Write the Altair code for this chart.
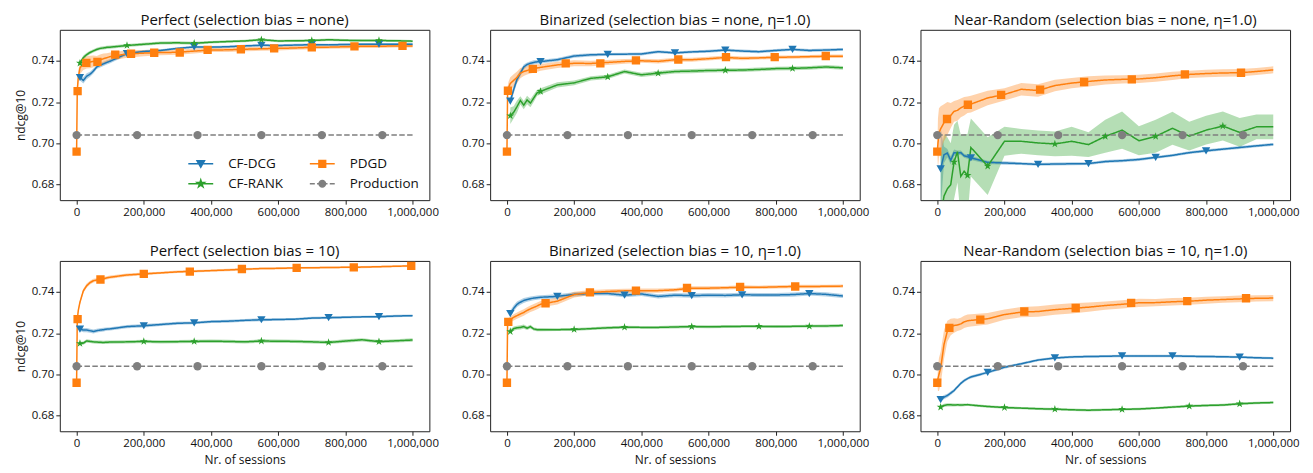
import altair as alt
import pandas as pd

# ---------------- data ----------------
SERIES = ["CF-DCG", "CF-RANK", "PDGD", "Production"]
COLORS = ["#1f77b4", "#2ca02c", "#ff7f0e", "#7f7f7f"]

X_TICKS = [0, 200000, 400000, 600000, 800000, 1000000]
Y_TICKS = [0.68, 0.70, 0.72, 0.74]

X_CF = [10000, 20000, 30000, 40000, 50000, 60000, 70000, 80000, 90000, 100000,
        150000, 200000, 250000, 300000, 350000, 400000, 450000, 500000, 550000,
        600000, 650000, 700000, 750000, 800000, 850000, 900000, 950000, 1000000]
X_PD = [0, 2000, 5000, 10000, 20000, 30000, 40000, 50000, 60000, 70000, 80000,
        90000, 100000, 150000, 200000, 250000, 300000, 350000, 400000, 450000,
        500000, 550000, 600000, 650000, 700000, 750000, 800000, 850000, 900000,
        950000, 1000000]

PROD_VALUE = 0.704
PROD_LINE_X = [0, 1000000]
PROD_MK_X = [0, 180000, 360000, 550000, 730000, 910000]

TITLES = [
    "Perfect (selection bias = none)",
    "Binarized (selection bias = none, η=1.0)",
    "Near-Random (selection bias = none, η=1.0)",
    "Perfect (selection bias = 10)",
    "Binarized (selection bias = 10, η=1.0)",
    "Near-Random (selection bias = 10, η=1.0)",
]

# Panel 1: Perfect, bias none
P1_DCG = [0.7319, 0.7305, 0.7325, 0.7335, 0.7350, 0.7370, 0.7378, 0.7385, 0.7392, 0.7398,
          0.7435, 0.7445, 0.7450, 0.7460, 0.7467, 0.7466, 0.7468, 0.7472, 0.7475,
          0.7474, 0.7476, 0.7478, 0.7477, 0.7479, 0.7480, 0.7480, 0.7480, 0.7480]
P1_DCG_HW = [0.0015, 0.0015, 0.0015, 0.0012, 0.0012, 0.0010, 0.0010, 0.0010, 0.0010, 0.0010,
             0.0008, 0.0007, 0.0006, 0.0006, 0.0006, 0.0006, 0.0006, 0.0006, 0.0006,
             0.0006, 0.0006, 0.0006, 0.0006, 0.0006, 0.0006, 0.0006, 0.0006, 0.0006]
P1_DCG_MK = [10000, 150000, 350000, 550000, 700000, 900000]
P1_RANK = [0.7389, 0.7415, 0.7430, 0.7440, 0.7448, 0.7455, 0.7460, 0.7462, 0.7465, 0.7466,
           0.7474, 0.7480, 0.7486, 0.7487, 0.7485, 0.7490, 0.7493, 0.7496, 0.7502,
           0.7496, 0.7497, 0.7498, 0.7502, 0.7499, 0.7498, 0.7498, 0.7497, 0.7495]
P1_RANK_HW = [0.0010, 0.0010, 0.0009, 0.0009, 0.0008, 0.0008, 0.0008, 0.0008, 0.0008, 0.0008,
              0.0007, 0.0007, 0.0007, 0.0007, 0.0007, 0.0006, 0.0006, 0.0006, 0.0006,
              0.0006, 0.0006, 0.0006, 0.0006, 0.0006, 0.0006, 0.0006, 0.0006, 0.0006]
P1_RANK_MK = [10000, 150000, 350000, 550000, 700000, 900000]
P1_PD = [0.6960, 0.7255, 0.7320, 0.7365, 0.7385, 0.7392, 0.7394, 0.7397, 0.7398, 0.7405, 0.7410,
         0.7415, 0.7420, 0.7433, 0.7437, 0.7440, 0.7441, 0.7447, 0.7452, 0.7453,
         0.7456, 0.7458, 0.7460, 0.7462, 0.7465, 0.7466, 0.7468, 0.7470, 0.7470,
         0.7472, 0.7472]
P1_PD_HW = [0.0, 0.0020, 0.0030, 0.0030, 0.0030, 0.0030, 0.0030, 0.0028, 0.0025, 0.0025, 0.0025,
            0.0022, 0.0020, 0.0018, 0.0015, 0.0013, 0.0012, 0.0012, 0.0010, 0.0010,
            0.0010, 0.0010, 0.0010, 0.0009, 0.0009, 0.0008, 0.0008, 0.0008, 0.0008,
            0.0008, 0.0008]
P1_PD_MK_X = [0, 3000, 29000, 62000, 115000, 162000, 231000, 307000, 390000, 489000,
              588000, 700000, 827000, 970000]
P1_PD_MK_Y = [0.696, 0.7253, 0.739, 0.7395, 0.743, 0.7434, 0.7439, 0.744, 0.7453, 0.7456,
              0.746, 0.7465, 0.747, 0.7472]

# Panel 2: Binarized, bias none
P2_DCG = [0.7205, 0.7260, 0.7310, 0.7340, 0.7370, 0.7382, 0.7388, 0.7392, 0.7395, 0.7396,
          0.7405, 0.7423, 0.7429, 0.7431, 0.7432, 0.7433, 0.7444, 0.7438, 0.7443,
          0.7446, 0.7452, 0.7447, 0.7444, 0.7450, 0.7455, 0.7450, 0.7452, 0.7455]
P2_DCG_HW = [0.0020, 0.0020, 0.0018, 0.0015, 0.0012, 0.0010, 0.0010, 0.0010, 0.0009, 0.0009,
             0.0008, 0.0008, 0.0008, 0.0007, 0.0007, 0.0007, 0.0007, 0.0007, 0.0007,
             0.0007, 0.0007, 0.0007, 0.0007, 0.0007, 0.0007, 0.0007, 0.0007, 0.0007]
P2_DCG_MK = [10000, 100000, 300000, 500000, 650000, 850000]
P2_RANK = [0.7134, 0.7150, 0.7178, 0.7208, 0.7185, 0.7210, 0.7195, 0.7220, 0.7245, 0.7252,
           0.7283, 0.7293, 0.7315, 0.7322, 0.7348, 0.7332, 0.7340, 0.7348, 0.7350,
           0.7353, 0.7354, 0.7355, 0.7358, 0.7362, 0.7363, 0.7366, 0.7370, 0.7366]
P2_RANK_HW = [0.0040, 0.0030, 0.0030, 0.0020, 0.0020, 0.0020, 0.0020, 0.0018, 0.0015, 0.0015,
              0.0013, 0.0012, 0.0010, 0.0010, 0.0010, 0.0010, 0.0010, 0.0010, 0.0010,
              0.0010, 0.0010, 0.0009, 0.0009, 0.0009, 0.0009, 0.0009, 0.0009, 0.0009]
P2_RANK_MK = [10000, 100000, 300000, 450000, 650000, 850000]
P2_PD = [0.6960, 0.7255, 0.7270, 0.7290, 0.7305, 0.7320, 0.7340, 0.7348, 0.7353, 0.7358, 0.7360,
         0.7365, 0.7368, 0.7380, 0.7388, 0.7387, 0.7392, 0.7397, 0.7400, 0.7397,
         0.7405, 0.7405, 0.7410, 0.7416, 0.7412, 0.7414, 0.7417, 0.7418, 0.7420,
         0.7422, 0.7422]
P2_PD_HW = [0.0, 0.0020, 0.0030, 0.0030, 0.0030, 0.0028, 0.0025, 0.0022, 0.0020, 0.0020, 0.0018,
            0.0018, 0.0016, 0.0015, 0.0014, 0.0013, 0.0012, 0.0011, 0.0010, 0.0010,
            0.0010, 0.0010, 0.0009, 0.0009, 0.0009, 0.0008, 0.0008, 0.0008, 0.0008,
            0.0008, 0.0008]
P2_PD_MK_X = [0, 3000, 77000, 175000, 278000, 384000, 510000, 652000, 797000, 949000]
P2_PD_MK_Y = [0.696, 0.7255, 0.7361, 0.7387, 0.7387, 0.7402, 0.7406, 0.7418, 0.7418, 0.7423]

# Panel 3: Near-Random, bias none
P3_DCG = [0.6876, 0.6945, 0.6953, 0.6918, 0.6955, 0.6953, 0.6955, 0.6940, 0.6935, 0.6930,
          0.6908, 0.6905, 0.6902, 0.6898, 0.6900, 0.6901, 0.6902, 0.6912, 0.6916,
          0.6922, 0.6932, 0.6942, 0.6955, 0.6964, 0.6972, 0.6980, 0.6988, 0.6995]
P3_DCG_HW = [0.0200, 0.0040, 0.0020, 0.0020, 0.0015, 0.0012, 0.0010, 0.0010, 0.0010, 0.0010,
             0.0008, 0.0008, 0.0007, 0.0007, 0.0007, 0.0007, 0.0007, 0.0007, 0.0007,
             0.0007, 0.0007, 0.0007, 0.0007, 0.0007, 0.0007, 0.0007, 0.0007, 0.0007]
P3_DCG_MK = [10000, 100000, 300000, 450000, 650000, 800000]
P3_RANK = [0.6640, 0.6745, 0.6780, 0.6800, 0.6910, 0.6960, 0.6840, 0.6865, 0.6845, 0.6980,
           0.6890, 0.7010, 0.7010, 0.7002, 0.6997, 0.7010, 0.6994, 0.7034, 0.7064,
           0.7013, 0.7034, 0.7073, 0.7035, 0.7064, 0.7084, 0.7053, 0.7080, 0.7080]
P3_RANK_HW = [0.0300, 0.0300, 0.0250, 0.0200, 0.0180, 0.0150, 0.0200, 0.0180, 0.0200, 0.0140,
              0.0140, 0.0070, 0.0060, 0.0060, 0.0060, 0.0070, 0.0060, 0.0080, 0.0090,
              0.0070, 0.0080, 0.0080, 0.0070, 0.0070, 0.0070, 0.0070, 0.0060, 0.0060]
P3_RANK_MK = [50000, 90000, 150000, 350000, 500000, 650000, 850000]
P3_PD = [0.6960, 0.7000, 0.7050, 0.7070, 0.7100, 0.7120, 0.7135, 0.7155, 0.7160, 0.7172, 0.7180,
         0.7187, 0.7190, 0.7220, 0.7237, 0.7262, 0.7256, 0.7280, 0.7292, 0.7300,
         0.7307, 0.7310, 0.7312, 0.7318, 0.7327, 0.7334, 0.7338, 0.7341, 0.7342,
         0.7348, 0.7356]
P3_PD_HW = [0.0, 0.0120, 0.0120, 0.0110, 0.0090, 0.0080, 0.0060, 0.0050, 0.0050, 0.0045, 0.0045,
            0.0040, 0.0040, 0.0035, 0.0030, 0.0030, 0.0030, 0.0028, 0.0025, 0.0025,
            0.0022, 0.0020, 0.0020, 0.0020, 0.0020, 0.0018, 0.0018, 0.0018, 0.0018,
            0.0017, 0.0017]
P3_PD_MK_X = [0, 29000, 91000, 190000, 306000, 437000, 579000, 737000, 904000]
P3_PD_MK_Y = [0.696, 0.7118, 0.7187, 0.7235, 0.726, 0.7297, 0.731, 0.7334, 0.7342]

# Panel 4: Perfect, bias 10
P4_DCG = [0.7220, 0.7215, 0.7215, 0.7212, 0.7208, 0.7212, 0.7215, 0.7217, 0.7220, 0.7221,
          0.7232, 0.7236, 0.7242, 0.7248, 0.7250, 0.7256, 0.7258, 0.7262, 0.7265,
          0.7266, 0.7268, 0.7273, 0.7275, 0.7277, 0.7279, 0.7280, 0.7283, 0.7285]
P4_DCG_HW = [0.0010, 0.0010, 0.0010, 0.0010, 0.0010, 0.0009, 0.0009, 0.0009, 0.0008, 0.0008,
             0.0008, 0.0008, 0.0007, 0.0007, 0.0007, 0.0007, 0.0007, 0.0007, 0.0007,
             0.0006, 0.0006, 0.0006, 0.0006, 0.0006, 0.0006, 0.0006, 0.0006, 0.0006]
P4_DCG_MK = [10000, 200000, 350000, 550000, 750000, 900000]
P4_RANK = [0.7150, 0.7152, 0.7162, 0.7160, 0.7158, 0.7157, 0.7156, 0.7155, 0.7156, 0.7157,
           0.7158, 0.7160, 0.7158, 0.7159, 0.7160, 0.7161, 0.7160, 0.7158, 0.7162,
           0.7161, 0.7160, 0.7158, 0.7155, 0.7162, 0.7168, 0.7159, 0.7163, 0.7167]
P4_RANK_HW = [0.0008, 0.0008, 0.0008, 0.0008, 0.0008, 0.0008, 0.0008, 0.0008, 0.0008, 0.0008,
              0.0008, 0.0008, 0.0008, 0.0008, 0.0008, 0.0008, 0.0008, 0.0008, 0.0008,
              0.0008, 0.0008, 0.0008, 0.0008, 0.0008, 0.0008, 0.0008, 0.0008, 0.0008]
P4_RANK_MK = [10000, 200000, 350000, 550000, 750000, 900000]
P4_PD = [0.6960, 0.7265, 0.7310, 0.7350, 0.7405, 0.7430, 0.7445, 0.7454, 0.7458, 0.7460, 0.7464,
         0.7468, 0.7471, 0.7482, 0.7487, 0.7492, 0.7497, 0.7500, 0.7503, 0.7506,
         0.7510, 0.7513, 0.7514, 0.7516, 0.7517, 0.7518, 0.7519, 0.7520, 0.7522,
         0.7524, 0.7526]
P4_PD_HW = [0.0, 0.0010, 0.0010, 0.0010, 0.0010, 0.0010, 0.0009, 0.0009, 0.0008, 0.0008, 0.0008,
            0.0008, 0.0008, 0.0007, 0.0007, 0.0006, 0.0006, 0.0006, 0.0006, 0.0006,
            0.0006, 0.0005, 0.0005, 0.0005, 0.0005, 0.0005, 0.0005, 0.0005, 0.0005,
            0.0005, 0.0005]
P4_PD_MK_X = [0, 3000, 71000, 200000, 337000, 492000, 655000, 825000, 996000]
P4_PD_MK_Y = [0.696, 0.7268, 0.746, 0.7487, 0.7498, 0.7511, 0.7516, 0.7519, 0.7526]

# Panel 5: Binarized, bias 10
P5_DCG = [0.7295, 0.7320, 0.7340, 0.7350, 0.7358, 0.7363, 0.7367, 0.7370, 0.7372, 0.7374,
          0.7378, 0.7388, 0.7392, 0.7392, 0.7384, 0.7390, 0.7378, 0.7384, 0.7382,
          0.7384, 0.7383, 0.7386, 0.7385, 0.7385, 0.7387, 0.7392, 0.7388, 0.7380]
P5_DCG_HW = [0.0015, 0.0015, 0.0013, 0.0012, 0.0012, 0.0011, 0.0011, 0.0010, 0.0010, 0.0010,
             0.0010, 0.0010, 0.0010, 0.0010, 0.0010, 0.0010, 0.0010, 0.0010, 0.0010,
             0.0010, 0.0010, 0.0010, 0.0010, 0.0010, 0.0010, 0.0010, 0.0010, 0.0010]
P5_DCG_MK = [10000, 150000, 350000, 550000, 700000, 900000]
P5_RANK = [0.7208, 0.7222, 0.7226, 0.7228, 0.7232, 0.7224, 0.7232, 0.7220, 0.7217, 0.7217,
           0.7217, 0.7218, 0.7222, 0.7226, 0.7229, 0.7228, 0.7228, 0.7230, 0.7232,
           0.7231, 0.7232, 0.7233, 0.7233, 0.7232, 0.7233, 0.7234, 0.7235, 0.7237]
P5_RANK_HW = [0.0010, 0.0010, 0.0010, 0.0010, 0.0010, 0.0009, 0.0009, 0.0008, 0.0008, 0.0008,
              0.0007, 0.0007, 0.0007, 0.0007, 0.0007, 0.0007, 0.0007, 0.0007, 0.0007,
              0.0007, 0.0007, 0.0007, 0.0007, 0.0007, 0.0007, 0.0007, 0.0007, 0.0007]
P5_RANK_MK = [10000, 200000, 350000, 550000, 750000, 900000]
P5_PD = [0.6960, 0.7255, 0.7258, 0.7265, 0.7277, 0.7285, 0.7293, 0.7300, 0.7310, 0.7318, 0.7325,
         0.7332, 0.7340, 0.7355, 0.7387, 0.7397, 0.7402, 0.7405, 0.7406, 0.7406,
         0.7410, 0.7418, 0.7418, 0.7420, 0.7423, 0.7422, 0.7424, 0.7426, 0.7426,
         0.7427, 0.7428]
P5_PD_HW = [0.0, 0.0015, 0.0015, 0.0015, 0.0015, 0.0015, 0.0016, 0.0016, 0.0016, 0.0016, 0.0016,
            0.0016, 0.0016, 0.0016, 0.0014, 0.0012, 0.0011, 0.0010, 0.0010, 0.0010,
            0.0009, 0.0009, 0.0009, 0.0009, 0.0009, 0.0008, 0.0008, 0.0008, 0.0008,
            0.0008, 0.0008]
P5_PD_MK_X = [0, 4000, 115000, 247000, 384000, 536000, 694000, 858000]
P5_PD_MK_Y = [0.696, 0.7255, 0.7345, 0.7398, 0.7406, 0.7419, 0.7424, 0.7426]

# Panel 6: Near-Random, bias 10
P6_DCG = [0.6878, 0.6890, 0.6898, 0.6910, 0.6922, 0.6940, 0.6957, 0.6970, 0.6980, 0.6988,
          0.7010, 0.7035, 0.7052, 0.7070, 0.7080, 0.7085, 0.7087, 0.7088, 0.7090,
          0.7090, 0.7090, 0.7090, 0.7088, 0.7087, 0.7086, 0.7084, 0.7081, 0.7079]
P6_DCG_HW = [0.0010, 0.0010, 0.0009, 0.0009, 0.0008, 0.0008, 0.0008, 0.0008, 0.0007, 0.0007,
             0.0007, 0.0007, 0.0006, 0.0006, 0.0006, 0.0006, 0.0006, 0.0006, 0.0006,
             0.0006, 0.0006, 0.0006, 0.0006, 0.0006, 0.0006, 0.0006, 0.0006, 0.0006]
P6_DCG_MK = [10000, 150000, 350000, 550000, 700000, 900000]
P6_RANK = [0.6842, 0.6850, 0.6853, 0.6853, 0.6852, 0.6853, 0.6852, 0.6853, 0.6854, 0.6852,
           0.6845, 0.6840, 0.6837, 0.6834, 0.6832, 0.6829, 0.6827, 0.6829, 0.6831,
           0.6833, 0.6837, 0.6842, 0.6847, 0.6850, 0.6852, 0.6858, 0.6862, 0.6864]
P6_RANK_HW = [0.0008, 0.0008, 0.0008, 0.0008, 0.0007, 0.0007, 0.0007, 0.0007, 0.0006, 0.0006,
              0.0006, 0.0006, 0.0006, 0.0006, 0.0006, 0.0006, 0.0006, 0.0006, 0.0006,
              0.0006, 0.0006, 0.0006, 0.0006, 0.0006, 0.0006, 0.0006, 0.0006, 0.0006]
P6_RANK_MK = [10000, 200000, 350000, 550000, 750000, 900000]
P6_PD = [0.6960, 0.6980, 0.7000, 0.7030, 0.7145, 0.7210, 0.7230, 0.7237, 0.7240, 0.7245, 0.7255,
         0.7260, 0.7262, 0.7270, 0.7290, 0.7302, 0.7305, 0.7314, 0.7320, 0.7326,
         0.7334, 0.7340, 0.7347, 0.7348, 0.7352, 0.7355, 0.7360, 0.7363, 0.7366,
         0.7369, 0.7370]
P6_PD_HW = [0.0, 0.0060, 0.0080, 0.0080, 0.0070, 0.0050, 0.0040, 0.0035, 0.0030, 0.0030, 0.0030,
            0.0030, 0.0030, 0.0028, 0.0025, 0.0025, 0.0025, 0.0025, 0.0025, 0.0022,
            0.0020, 0.0020, 0.0020, 0.0018, 0.0018, 0.0017, 0.0017, 0.0016, 0.0016,
            0.0015, 0.0015]
P6_PD_MK_X = [0, 36000, 128000, 259000, 412000, 577000, 744000, 919000]
P6_PD_MK_Y = [0.696, 0.7226, 0.7266, 0.7305, 0.7322, 0.7347, 0.7355, 0.7369]

PANELS = [
    (P1_DCG, P1_DCG_HW, P1_DCG_MK, P1_RANK, P1_RANK_HW, P1_RANK_MK, P1_PD, P1_PD_HW, P1_PD_MK_X, P1_PD_MK_Y),
    (P2_DCG, P2_DCG_HW, P2_DCG_MK, P2_RANK, P2_RANK_HW, P2_RANK_MK, P2_PD, P2_PD_HW, P2_PD_MK_X, P2_PD_MK_Y),
    (P3_DCG, P3_DCG_HW, P3_DCG_MK, P3_RANK, P3_RANK_HW, P3_RANK_MK, P3_PD, P3_PD_HW, P3_PD_MK_X, P3_PD_MK_Y),
    (P4_DCG, P4_DCG_HW, P4_DCG_MK, P4_RANK, P4_RANK_HW, P4_RANK_MK, P4_PD, P4_PD_HW, P4_PD_MK_X, P4_PD_MK_Y),
    (P5_DCG, P5_DCG_HW, P5_DCG_MK, P5_RANK, P5_RANK_HW, P5_RANK_MK, P5_PD, P5_PD_HW, P5_PD_MK_X, P5_PD_MK_Y),
    (P6_DCG, P6_DCG_HW, P6_DCG_MK, P6_RANK, P6_RANK_HW, P6_RANK_MK, P6_PD, P6_PD_HW, P6_PD_MK_X, P6_PD_MK_Y),
]

# ---------------- marker / legend glyphs ----------------
STAR = ("M0,-1L0.223,-0.307L0.951,-0.309L0.361,0.117L0.588,0.809L0,0.38"
        "L-0.588,0.809L-0.361,0.117L-0.951,-0.309L-0.223,-0.307Z")
MARKER_SHAPES = ["triangle-down", STAR, "square", "circle"]
LEG_DCG = "M-1,0H1M-0.3,-0.25L0.3,-0.25L0,0.28Z"
LEG_PD = "M-1,0H1M-0.27,-0.27H0.27V0.27H-0.27Z"
LEG_RANK = ("M-1,0H1M0,-0.3L0.067,-0.092L0.285,-0.093L0.108,0.035L0.176,0.243L0,0.114"
            "L-0.176,0.243L-0.108,0.035L-0.285,-0.093L-0.067,-0.092Z")
LEG_PROD = ("M-1,0H-0.6M-0.42,0H-0.1M0.1,0H0.42M0.6,0H1"
            "M-0.26,0A0.26,0.26 0 1,0 0.26,0A0.26,0.26 0 1,0 -0.26,0Z")
LEGEND_SHAPES = [LEG_DCG, LEG_RANK, LEG_PD, LEG_PROD]

FONT = "Open Sans"
W, H = 371, 171

X_SCALE = alt.Scale(domain=[-50000, 1050000], nice=False, zero=False)
Y_SCALE = alt.Scale(domain=[0.6725, 0.755], nice=False, zero=False)
COLOR_SCALE = alt.Scale(domain=SERIES, range=COLORS)


def make_panel(i, vals):
    dcg, dcg_hw, dcg_mk, rank, rank_hw, rank_mk, pdy, pd_hw, pd_mkx, pd_mky = vals
    band_rows, line_rows, mk_rows = [], [], []
    for name, xs, ys, hw in [("CF-DCG", X_CF, dcg, dcg_hw), ("CF-RANK", X_CF, rank, rank_hw),
                             ("PDGD", X_PD, pdy, pd_hw)]:
        for x, y, h in zip(xs, ys, hw):
            band_rows.append({"series": name, "x": x, "lo": y - h, "hi": y + h})
            line_rows.append({"series": name, "x": x, "y": y})
    for x in PROD_LINE_X:
        line_rows.append({"series": "Production", "x": x, "y": PROD_VALUE})
    for name, xs, ys, mk in [("CF-DCG", X_CF, dcg, dcg_mk), ("CF-RANK", X_CF, rank, rank_mk)]:
        lookup = dict(zip(xs, ys))
        for x in mk:
            mk_rows.append({"series": name, "x": x, "y": lookup[x]})
    for x, y in zip(pd_mkx, pd_mky):
        mk_rows.append({"series": "PDGD", "x": x, "y": y})
    for x in PROD_MK_X:
        mk_rows.append({"series": "Production", "x": x, "y": PROD_VALUE})

    xaxis = dict(values=X_TICKS, format=",d")
    xaxis["title"] = "Nr. of sessions" if i >= 3 else None
    yaxis = dict(values=Y_TICKS, format=".2f")
    yaxis["title"] = "ndcg@10" if i in (0, 3) else None

    X = alt.X("x:Q", scale=X_SCALE, axis=alt.Axis(**xaxis))
    Y = alt.Y("y:Q", scale=Y_SCALE, axis=alt.Axis(**yaxis))
    col = alt.Color("series:N", scale=COLOR_SCALE, legend=None)

    bands = alt.Chart(pd.DataFrame(band_rows)).mark_area(opacity=0.35, clip=True).encode(
        x=X, y=alt.Y("lo:Q", scale=Y_SCALE, axis=alt.Axis(**yaxis)), y2="hi:Q", color=col)
    lines = alt.Chart(pd.DataFrame(line_rows)).mark_line(strokeWidth=1.5, clip=True).encode(
        x=X, y=Y, color=col,
        strokeDash=alt.StrokeDash("series:N", scale=alt.Scale(
            domain=SERIES, range=[[1, 0], [1, 0], [1, 0], [5.5, 2.4]]), legend=None))
    mdf = pd.DataFrame(mk_rows)
    marks = alt.Chart(mdf).mark_point(filled=True, opacity=1, size=70, clip=True).encode(
        x=X, y=Y, color=col,
        shape=alt.Shape("series:N", scale=alt.Scale(domain=SERIES, range=MARKER_SHAPES), legend=None))

    layers = [bands, lines, marks]
    if i == 0:
        leg = alt.Legend(title=None, orient="bottom-right", columns=2, symbolSize=625,
                         symbolStrokeWidth=1.5, symbolOpacity=1, labelFont=FONT, labelFontSize=13.5,
                         labelColor="#111", rowPadding=-3, columnPadding=23, labelOffset=14,
                         offset=10, padding=0)
        legend_layer = alt.Chart(mdf).transform_filter("false").mark_point(
            filled=True, opacity=1, size=625).encode(
            x=X, y=Y,
            fill=alt.Fill("series:N", scale=alt.Scale(domain=SERIES, range=COLORS), legend=leg),
            stroke=alt.Stroke("series:N", scale=alt.Scale(domain=SERIES, range=COLORS), legend=leg),
            shape=alt.Shape("series:N", scale=alt.Scale(domain=SERIES, range=LEGEND_SHAPES), legend=leg))
        layers.append(legend_layer)

    ch = alt.layer(*layers).properties(
        width=W, height=H,
        title=alt.TitleParams(TITLES[i], fontSize=15, font=FONT, fontWeight="normal",
                              color="#111", offset=2))
    if i == 0:
        ch = ch.resolve_scale(shape="independent", fill="independent", stroke="independent")
    return ch


panels = [make_panel(i, v) for i, v in enumerate(PANELS)]

chart = alt.concat(*panels, columns=3, spacing={"row": 61, "column": 61}, bounds="flush").resolve_scale(
    x="independent", y="independent", color="independent", shape="independent",
    fill="independent", stroke="independent", strokeDash="independent"
).configure(
    padding={"left": 5, "top": 3, "right": 5, "bottom": 0}
).configure_view(
    stroke="#222", strokeWidth=1
).configure_axis(
    grid=False, domain=False, labelFont=FONT, titleFont=FONT, labelFontSize=11.5,
    titleFontSize=12, titleFontWeight="normal", labelColor="#111", titleColor="#111",
    tickColor="#222", tickSize=4, labelPadding=2, titlePadding=4
).configure_axisX(
    titlePadding=6
)

chart.save("out.html", embed_options={"renderer": "svg", "actions": False})
